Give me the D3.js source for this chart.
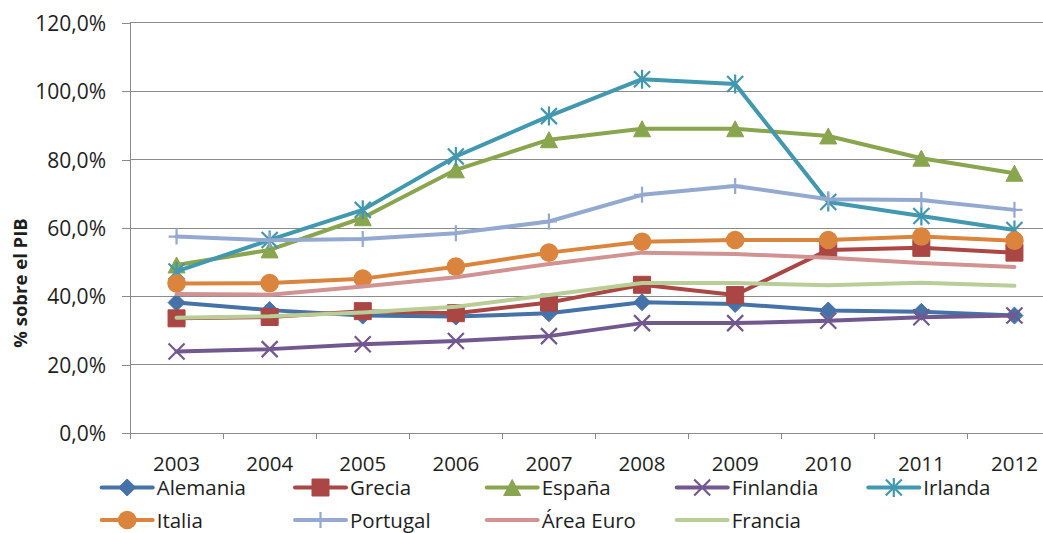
<!DOCTYPE html>
<html>
<head>
<meta charset="utf-8">
<script src="https://cdn.jsdelivr.net/npm/d3@7"></script>
<style>
  html, body { margin: 0; padding: 0; background: #fff; }
  svg { display: block; font-family: "Open Sans", Lato, sans-serif; }
</style>
</head>
<body>
<svg id="chart" width="1043" height="533"></svg>
<script>
// Deuda pública (% sobre el PIB), 2003–2012
const years = [2003, 2004, 2005, 2006, 2007, 2008, 2009, 2010, 2011, 2012];
const yTicks = [0, 20, 40, 60, 80, 100, 120];

const alemania  = [38.2, 36.0, 34.4, 34.1, 35.1, 38.3, 37.8, 35.9, 35.5, 34.4];
const grecia    = [33.6, 34.0, 35.7, 35.1, 38.2, 43.4, 40.4, 53.6, 54.2, 52.8];
const espana    = [49.2, 53.6, 63.0, 77.0, 85.8, 89.0, 89.0, 86.9, 80.4, 76.0];
const finlandia = [23.9, 24.6, 26.0, 27.0, 28.4, 32.2, 32.2, 32.9, 33.9, 34.4];
const irlanda   = [47.3, 56.5, 65.3, 80.9, 92.7, 103.5, 102.1, 67.6, 63.5, 59.4];
const italia    = [43.8, 43.9, 45.2, 48.7, 52.8, 56.0, 56.5, 56.5, 57.5, 56.3];
const portugal  = [57.5, 56.4, 56.8, 58.5, 61.9, 69.7, 72.3, 68.4, 68.2, 65.3];
const areaEuro  = [40.7, 40.5, 42.9, 45.6, 49.5, 52.8, 52.4, 51.3, 49.8, 48.6];
const francia   = [33.8, 34.2, 35.3, 37.0, 40.4, 43.9, 43.9, 43.3, 44.0, 43.1];

const seriesNames = ["Alemania", "Grecia", "España", "Finlandia", "Irlanda",
                     "Italia", "Portugal", "Área Euro", "Francia"];
const seriesValues = [alemania, grecia, espana, finlandia, irlanda,
                      italia, portugal, areaEuro, francia];
const seriesColors = ["#4572A7", "#AA4643", "#89A54E", "#71588F", "#4198AF",
                      "#DB843D", "#93A9CF", "#D19392", "#B9CD96"];
const seriesMarkers = ["diamond", "square", "triangle", "x", "asterisk",
                       "circle", "plus", "none", "none"];

const series = seriesNames.map((name, i) => ({
  name, values: seriesValues[i], color: seriesColors[i], marker: seriesMarkers[i]
}));

const svg = d3.select("#chart");
const FONT = "'Open Sans', Lato, sans-serif";
const TEXT_COLOR = "#1e1e1e";

const plot = { left: 130, top: 22.7, bottom: 433.3, right: 1061 };

const x = d3.scaleBand().domain(years).range([plot.left, plot.right]).paddingInner(0).paddingOuter(0);
const y = d3.scaleLinear().domain([0, 120]).range([plot.bottom, plot.top]);
const cx = d => x(d) + x.bandwidth() / 2;

const fmt = v => v.toFixed(1).replace(".", ",") + "%";

// Horizontal gridlines
svg.append("g")
  .selectAll("line")
  .data(yTicks)
  .join("line")
  .attr("x1", plot.left).attr("x2", 1043)
  .attr("y1", d => y(d)).attr("y2", d => y(d))
  .attr("stroke", "#8a8a8a").attr("stroke-width", 1)
  .attr("shape-rendering", "crispEdges");

// Value axis
const yAxis = svg.append("g")
  .attr("transform", `translate(${plot.left},0)`)
  .call(d3.axisLeft(y).tickValues(yTicks).tickFormat(fmt).tickSize(8).tickPadding(16));
yAxis.select(".domain").attr("stroke", "#8a8a8a").attr("shape-rendering", "crispEdges");
yAxis.selectAll(".tick line").attr("stroke", "#8a8a8a").attr("shape-rendering", "crispEdges");
yAxis.selectAll(".tick text")
  .attr("font-size", 21).attr("fill", TEXT_COLOR).attr("font-family", FONT)
  .attr("dy", "0.36em");

// Category axis
const xAxis = svg.append("g")
  .attr("transform", `translate(0,${plot.bottom})`)
  .call(d3.axisBottom(x).tickSize(0).tickPadding(0));
xAxis.select(".domain").remove();
xAxis.selectAll(".tick text")
  .attr("font-size", 20.5).attr("fill", TEXT_COLOR).attr("dy", 0).attr("y", 38)
  .attr("font-family", FONT);

// Category boundary tick marks
const boundaries = years.map(d => x(d)).concat([plot.right]);
svg.append("g")
  .selectAll("line")
  .data(boundaries)
  .join("line")
  .attr("x1", d => d).attr("x2", d => d)
  .attr("y1", plot.bottom).attr("y2", plot.bottom + 6)
  .attr("stroke", "#8a8a8a").attr("shape-rendering", "crispEdges");

// Axis title
svg.append("text")
  .attr("transform", "translate(27,283) rotate(-90)")
  .attr("text-anchor", "middle")
  .attr("font-family", FONT)
  .attr("font-size", 18.5).attr("font-weight", "bold").attr("fill", TEXT_COLOR)
  .text("% sobre el PIB");

// Marker shapes
function markerPath(type) {
  switch (type) {
    case "diamond":  return "M0,-8.5L8.5,0L0,8.5L-8.5,0Z";
    case "square":   return "M-8.5,-8.5H8.5V8.5H-8.5Z";
    case "triangle": return "M0,-8L8.5,8L-8.5,8Z";
    case "x":        return "M-8,-8L8,8M-8,8L8,-8";
    case "asterisk": return "M-8,-8L8,8M-8,8L8,-8M0,-9.5V9.5";
    case "plus":     return "M-8,0H8M0,-8V8";
    default:         return null;
  }
}
function drawMarker(g, type, color) {
  if (type === "none") return;
  if (type === "circle") {
    g.append("circle").attr("r", 9.3).attr("fill", color);
    return;
  }
  const filled = ["diamond", "square", "triangle"].includes(type);
  g.append("path")
    .attr("d", markerPath(type))
    .attr("fill", filled ? color : "none")
    .attr("stroke", color)
    .attr("stroke-width", filled ? 1 : 2.2)
    .attr("stroke-linejoin", "round");
}

const line = d3.line()
  .x((d, i) => cx(years[i]))
  .y(d => y(d));

// Series: each line followed by its markers
const seriesG = svg.append("g");
series.forEach(s => {
  const g = seriesG.append("g");
  g.append("path")
    .attr("d", line(s.values))
    .attr("fill", "none")
    .attr("stroke", s.color)
    .attr("stroke-width", 4)
    .attr("stroke-linejoin", "round")
    .attr("stroke-linecap", "round");
  s.values.forEach((v, i) => {
    const m = g.append("g").attr("transform", `translate(${cx(years[i])},${y(v)})`);
    drawMarker(m, s.marker, s.color);
  });
});

// Legend
const legendCols = [101.7, 295, 486.7, 676.7, 868.3];
const legendRows = [487.5, 520];
const legend = svg.append("g");
series.forEach((s, i) => {
  const lx = legendCols[i % 5];
  const ly = legendRows[Math.floor(i / 5)];
  const g = legend.append("g").attr("transform", `translate(${lx},${ly})`);
  g.append("line")
    .attr("x1", 0).attr("x2", 51).attr("y1", 0).attr("y2", 0)
    .attr("stroke", s.color).attr("stroke-width", 4).attr("stroke-linecap", "round");
  const m = g.append("g").attr("transform", "translate(25.5,0)");
  drawMarker(m, s.marker, s.color);
  g.append("text")
    .attr("x", 55).attr("y", 7.5)
    .attr("font-family", FONT)
    .attr("font-size", 20.5).attr("fill", TEXT_COLOR)
    .text(s.name);
});
</script>
</body>
</html>
